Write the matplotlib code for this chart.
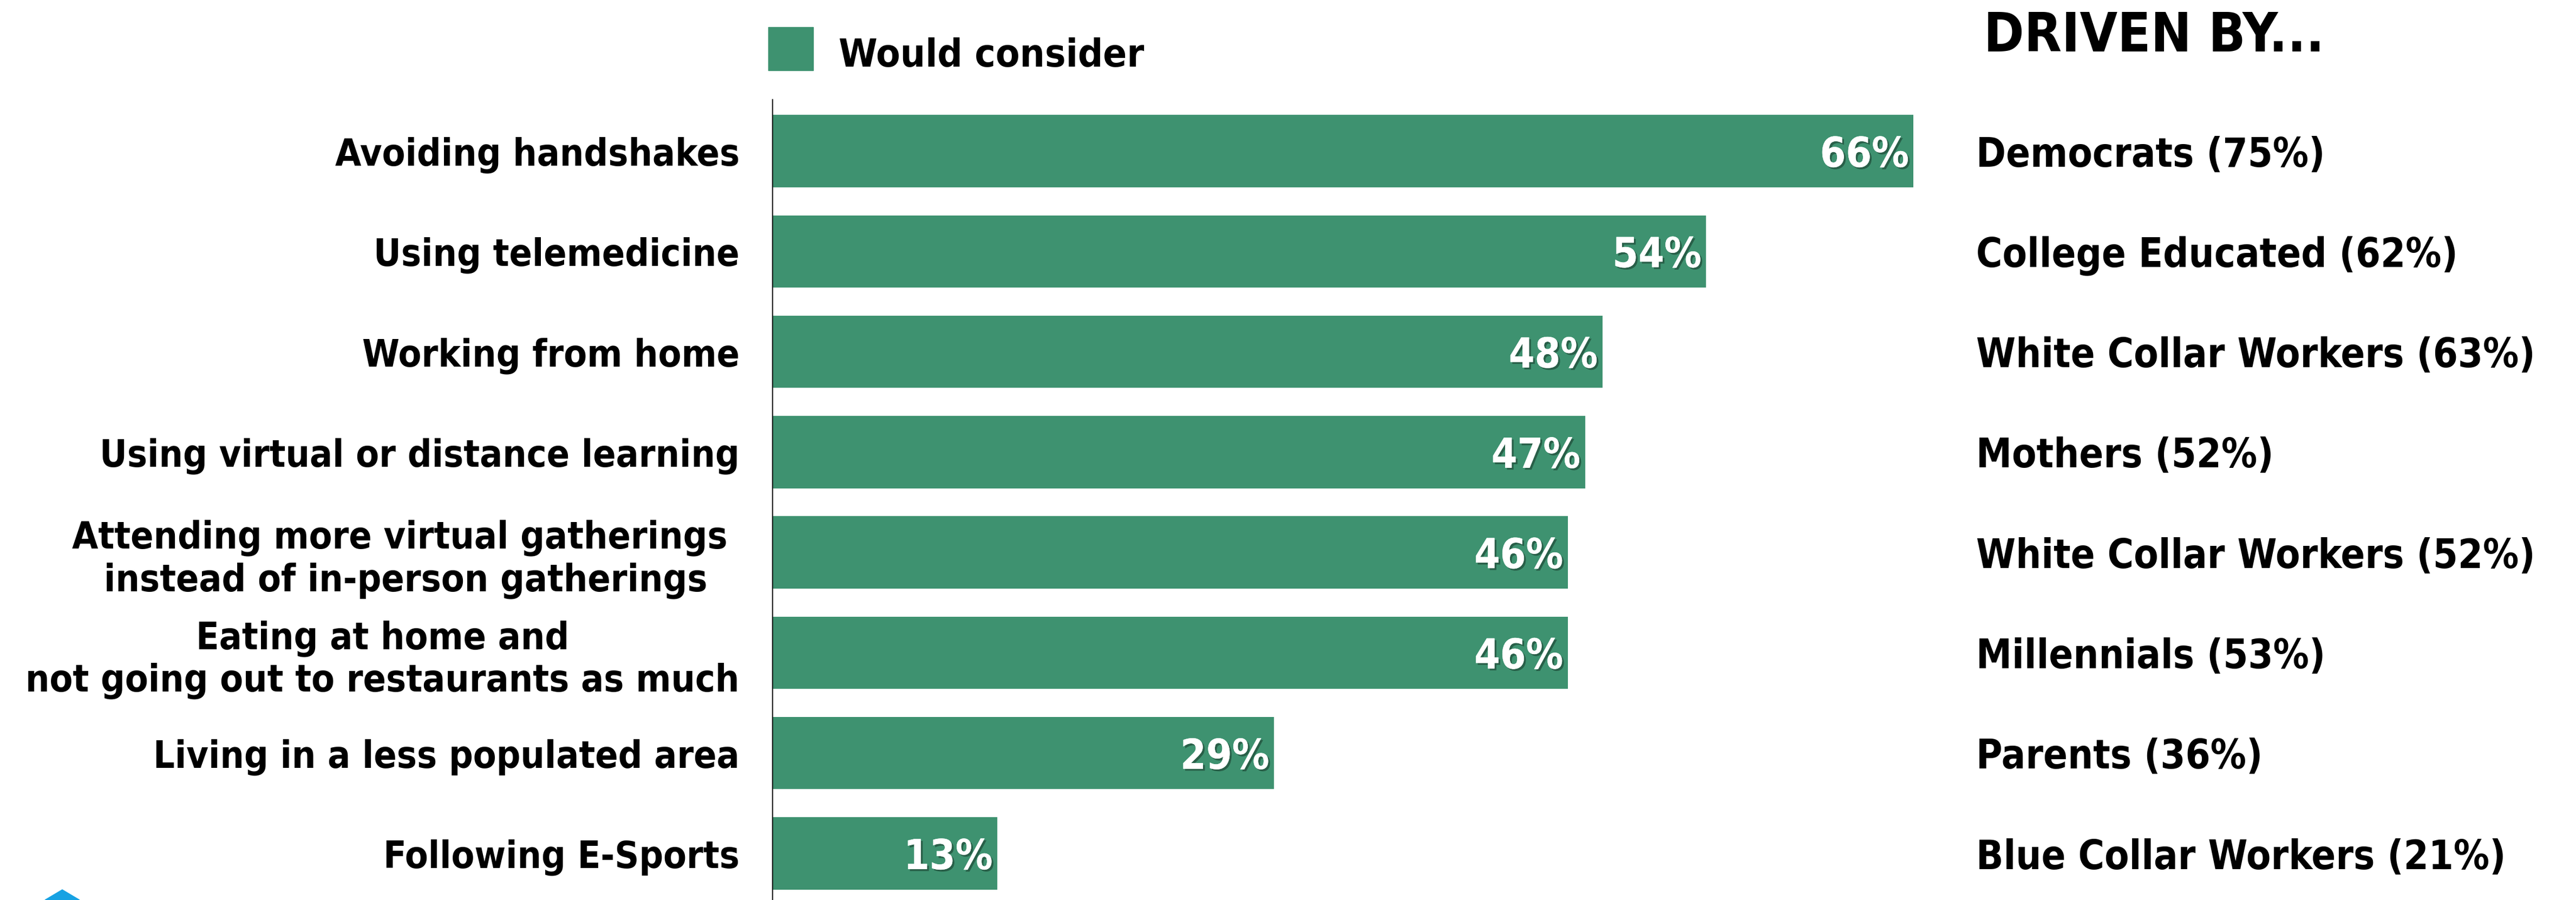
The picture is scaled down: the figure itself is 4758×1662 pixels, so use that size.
import matplotlib
matplotlib.use("Agg")
import matplotlib.pyplot as plt
import matplotlib.patheffects as pe
from matplotlib.patches import Rectangle, Polygon
from matplotlib.transforms import blended_transform_factory

# data
categories = ["Avoiding handshakes",
              "Using telemedicine",
              "Working from home",
              "Using virtual or distance learning",
              "Attending more virtual gatherings \ninstead of in-person gatherings",
              "Eating at home and\nnot going out to restaurants as much",
              "Living in a less populated area",
              "Following E-Sports"]
would_consider = [66, 54, 48, 47, 46, 46, 29, 13]
driven_by = ["Democrats (75%)",
             "College Educated (62%)",
             "White Collar Workers (63%)",
             "Mothers (52%)",
             "White Collar Workers (52%)",
             "Millennials (53%)",
             "Parents (36%)",
             "Blue Collar Workers (21%)"]

green = "#3e9270"
W, H = 4758, 1662
fnt = dict(family="DejaVu Sans", stretch="condensed", weight="bold")

fig = plt.figure(figsize=(W / 100, H / 100), dpi=100)
ax = fig.add_axes([1427 / W, 0, 2235 / W, 1 - 184 / H])

y = list(range(len(categories)))
bars = ax.barh(y, would_consider, height=0.72, color=green)
ax.set_xlim(0, 70)
ax.set_ylim(7.464, -0.513)

for s in ["top", "right", "bottom"]:
    ax.spines[s].set_visible(False)
ax.spines["left"].set_linewidth(1.5)
ax.spines["left"].set_color("black")
ax.set_xticks([])
ax.set_yticks(y)
ax.set_yticklabels(categories, fontsize=50, **fnt)
for lab in ax.get_yticklabels():
    lab.set_multialignment("center")
ax.tick_params(axis="y", length=0, pad=44)

# value labels inside bar ends
shadow = [pe.withSimplePatchShadow(offset=(2.5, -2.5), shadow_rgbFace="#1a3d2e", alpha=0.6),
          pe.Normal()]
for b, v in zip(bars, would_consider):
    ax.annotate(f"{v}%", xy=(b.get_width(), b.get_y() + b.get_height() / 2),
                xytext=(-6, 0), textcoords="offset points",
                ha="right", va="center_baseline", color="white",
                fontsize=55, path_effects=shadow, **fnt)

# right column
tr = blended_transform_factory(fig.transFigure, ax.transData)
for i, t in enumerate(driven_by):
    ax.text(3650 / W, i, t, transform=tr, ha="left", va="center_baseline",
            fontsize=53, clip_on=False, **fnt)
fig.text(3664 / W, 1 - 57 / H, "DRIVEN BY...", ha="left", va="center_baseline",
         fontsize=72, **fnt)

# legend
fig.add_artist(Rectangle((1419 / W, 1 - 130 / H), 83 / W, 80 / H,
                         transform=fig.transFigure, color=green))
fig.text(1549 / W, 1 - 96 / H, "Would consider", ha="left", va="center_baseline",
         fontsize=52, **fnt)

# logo corner
fig.add_artist(Polygon([[83 / W, 0], [147 / W, 0], [115 / W, 19 / H]],
                       closed=True, transform=fig.transFigure, color="#17a2e3"))

fig.savefig("out.png", dpi=100, facecolor="white")
